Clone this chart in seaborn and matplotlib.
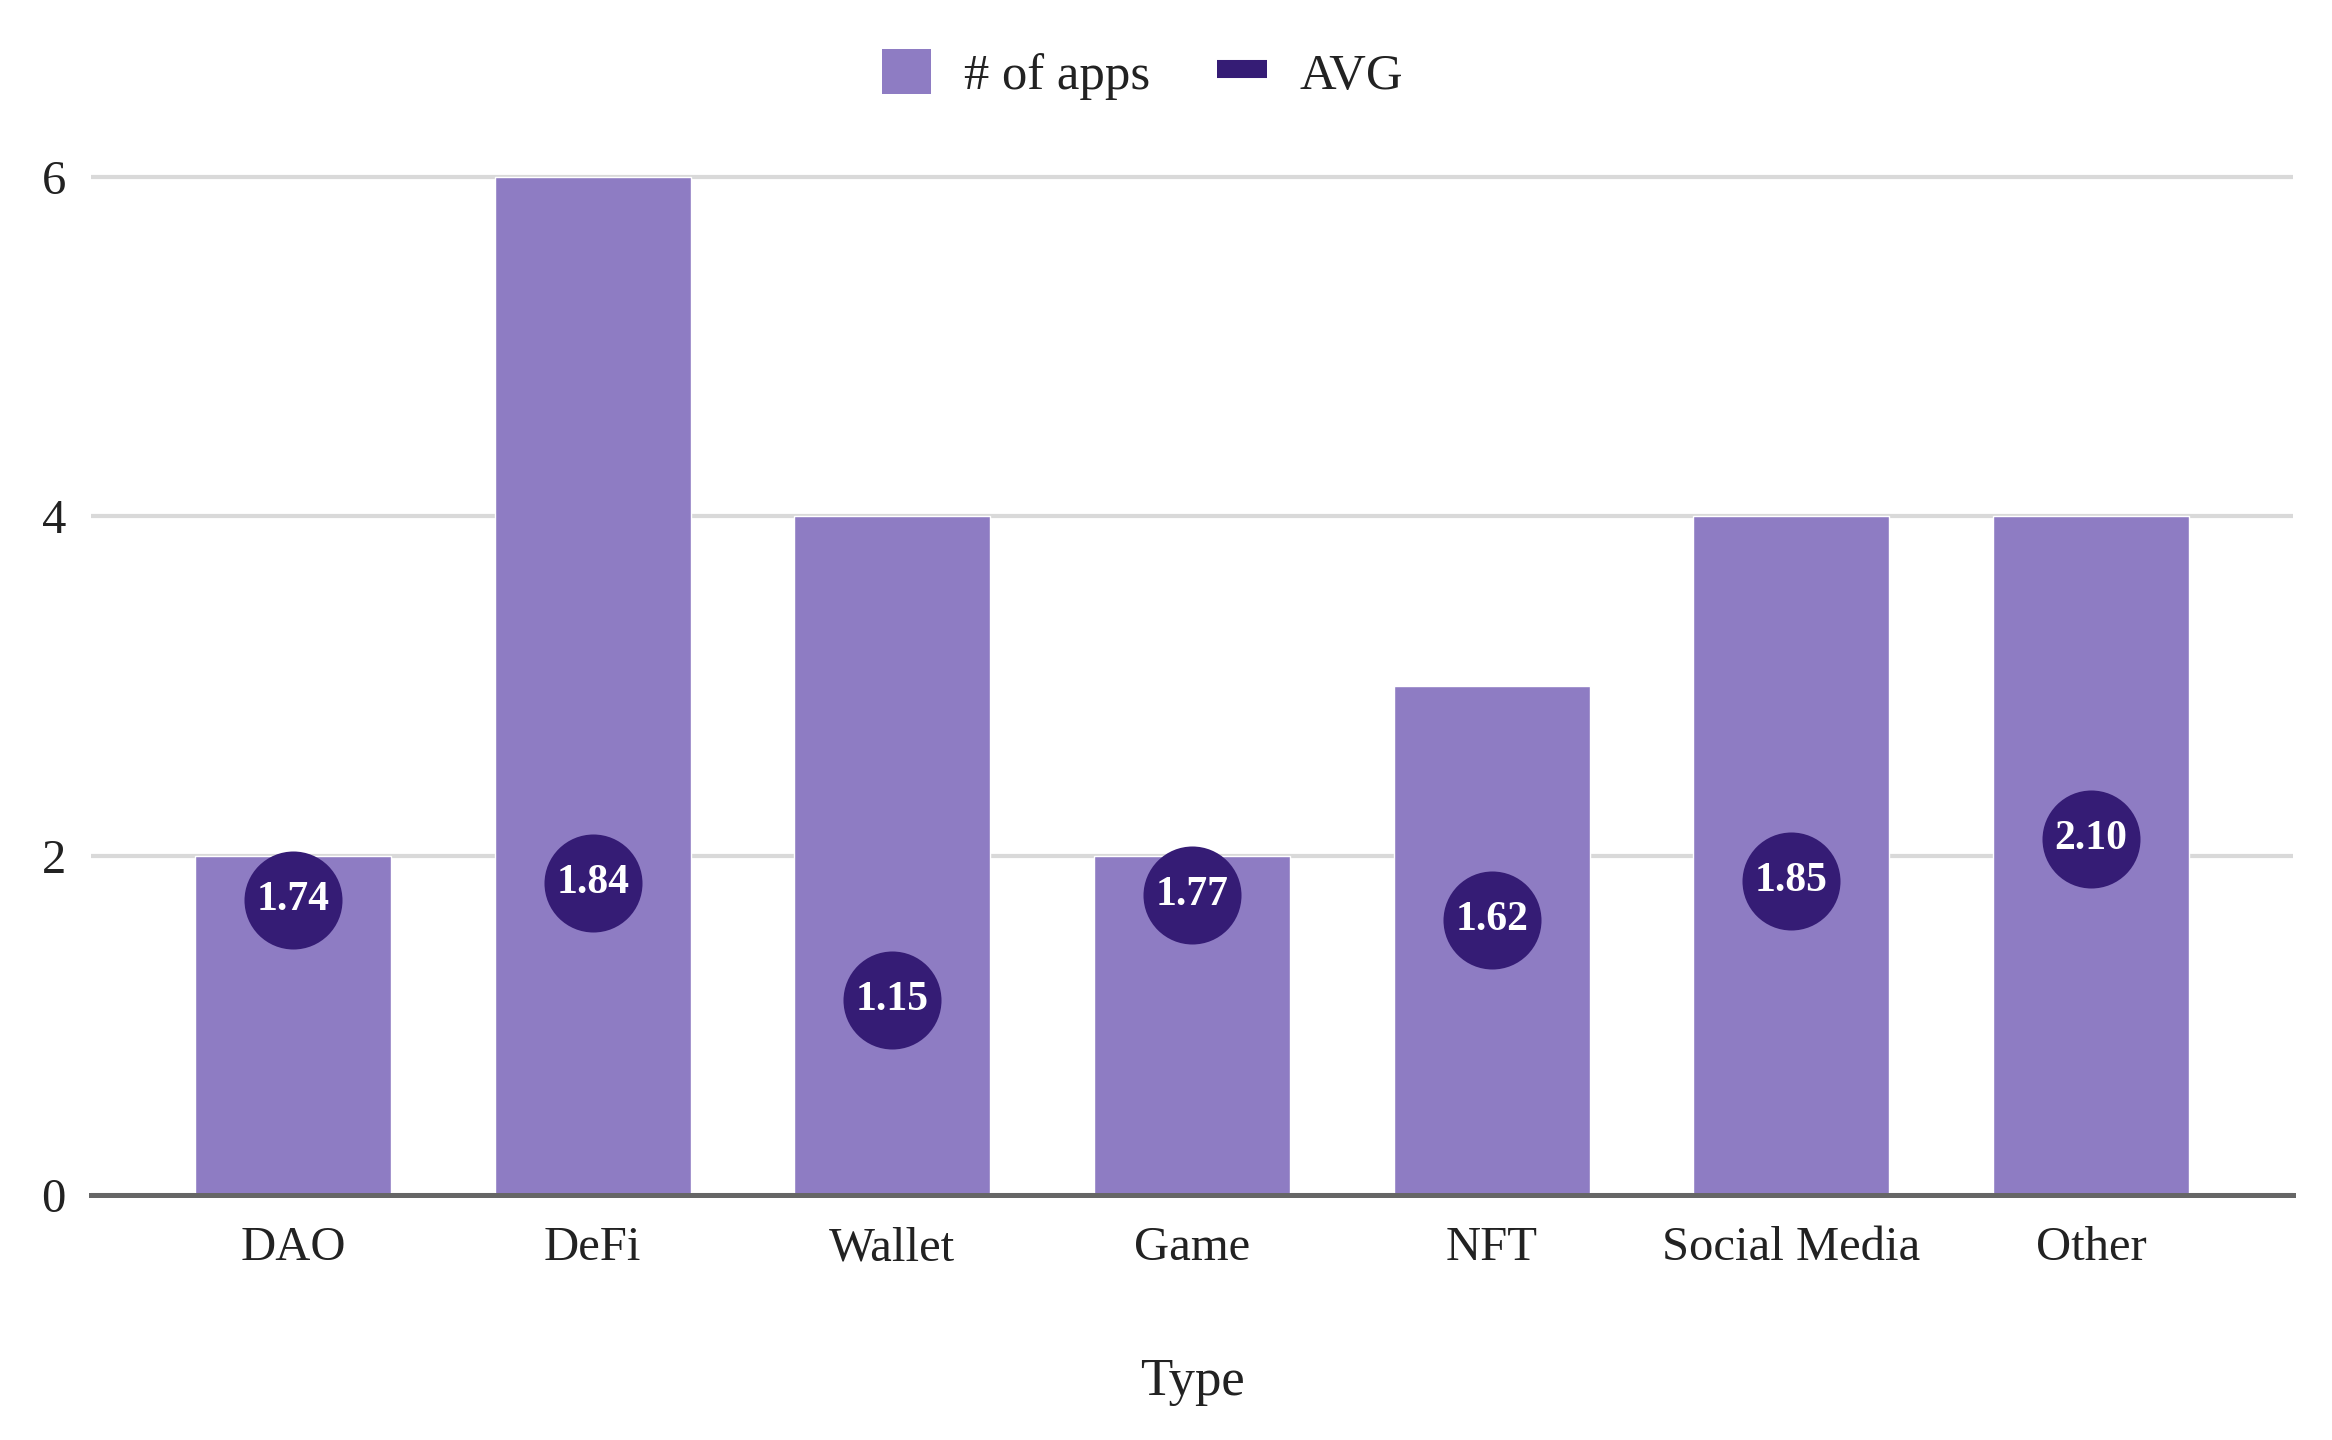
import numpy as np
import pandas as pd
import matplotlib
matplotlib.use('Agg')
import matplotlib.pyplot as plt
import seaborn as sns
from matplotlib.patches import Patch
from matplotlib.lines import Line2D

# Data
types = ['DAO', 'DeFi', 'Wallet', 'Game', 'NFT', 'Social Media', 'Other']
num_apps = [2, 6, 4, 2, 3, 4, 4]
avg = [1.74, 1.84, 1.15, 1.77, 1.62, 1.85, 2.10]

bar_color = '#8e7cc3'
dot_color = '#351c75'
text_color = '#222222'

sns.set_theme(style='white')
plt.rcParams['font.family'] = ['Liberation Serif', 'DejaVu Serif']
plt.rcParams['text.color'] = text_color

df = pd.DataFrame({'Type': types, 'apps': num_apps, 'AVG': avg})

fig = plt.figure(figsize=(23.32, 14.4), dpi=100)
ax = fig.add_axes([0.039, 0.1701, 0.9443, 0.7093])

# bars
sns.barplot(data=df, x='Type', y='apps', color=bar_color, width=0.654,
            saturation=1, ax=ax, zorder=2)

# AVG points with value labels
sns.scatterplot(data=df, x='Type', y='AVG', marker='o', s=4980,
                color=dot_color, linewidth=0, ax=ax, zorder=3, legend=False)
for i, v in enumerate(avg):
    ax.text(i, v, f'{v:.2f}', color='white', ha='center', va='center',
            fontsize=30, fontweight='bold', zorder=4)

ax.set_xlim(-0.674, 6.674)
ax.set_ylim(0, 6.02)
ax.set_yticks([0, 2, 4, 6])
ax.set_yticklabels(['0', '2', '4', '6'])
ax.yaxis.grid(True, color='#d9d9d9', linewidth=3)
ax.set_axisbelow(True)
for side in ['top', 'right', 'left']:
    ax.spines[side].set_visible(False)
ax.spines['bottom'].set_color('#666666')
ax.spines['bottom'].set_linewidth(3.6)
ax.spines['bottom'].set_zorder(5)

ax.tick_params(axis='x', length=0, pad=22.5, labelsize=35, labelcolor=text_color)
ax.tick_params(axis='y', length=0, pad=18, labelsize=35, labelcolor=text_color)
ax.set_xlabel('Type', fontsize=38, labelpad=63, color=text_color)
ax.set_ylabel('')

handles = [Patch(facecolor=bar_color, edgecolor='none', label='# of apps'),
           Line2D([0], [0], color=dot_color, linewidth=13,
                  solid_capstyle='butt', label='AVG')]
fig.legend(handles=handles, loc='center', bbox_to_anchor=(0.490, 0.948),
           ncol=2, frameon=False, fontsize=36.5, handlelength=0.97,
           handleheight=0.99, handletextpad=0.65, columnspacing=1.32)

plt.savefig('out.png', dpi=100)
